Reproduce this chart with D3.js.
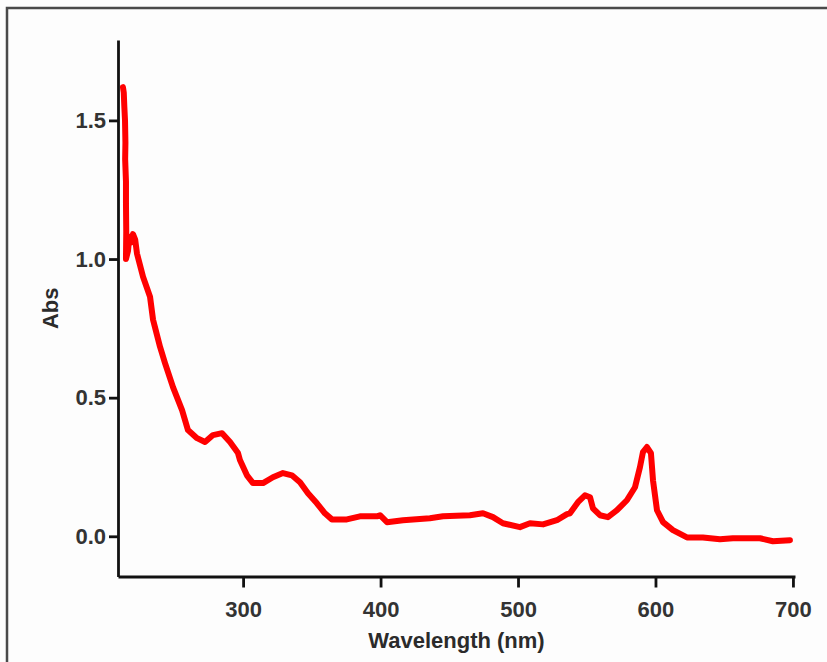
<!DOCTYPE html>
<html>
<head>
<meta charset="utf-8">
<script src="https://cdn.jsdelivr.net/npm/d3@7"></script>
<style>
  html, body { margin: 0; padding: 0; background: #fdfdfd; }
  svg { display: block; }
  .tick text { font-family: "Liberation Sans", Arial, sans-serif; font-weight: bold; font-size: 22px; fill: #333; }
  .axis-title { font-family: "Liberation Sans", Arial, sans-serif; font-weight: bold; font-size: 22px; fill: #2b2b2b; }
</style>
</head>
<body>
<script>
// Absorption spectrum: wavelength (nm) and absorbance
const wavelength = [
  212.6, 213.2, 213.6, 214.1, 214.4, 214.2, 214.8, 214.8, 215.0, 214.8,
  216.3, 217.2, 218.6, 219.9, 221.5, 222.8, 227.2, 232.3, 234.5, 239.6,
  243.2, 249.0, 255.6, 259.9, 266.5, 272.3, 278.1, 284.7, 290.5, 296.3,
  297.7, 302.8, 307.2, 314.5, 321.7, 329.0, 335.5, 341.4, 347.2, 353.7,
  359.5, 364.6, 375.5, 385.0, 397.4, 399.6, 404.7, 416.3, 435.9, 445.4,
  465.0, 474.5, 481.8, 489.0, 501.4, 508.7, 518.2, 528.3, 535.6, 537.8,
  543.6, 548.7, 552.4, 554.5, 559.6, 565.4, 572.0, 579.2, 585.1, 588.7,
  590.9, 593.8, 596.7, 598.2, 601.1, 605.5, 612.7, 622.9, 634.5, 646.9,
  656.3, 676.0, 685.4, 697.8
];
const absorbance = [
  1.62, 1.60, 1.55, 1.50, 1.42, 1.36, 1.28, 1.20, 1.10, 1.00,
  1.03, 1.08, 1.06, 1.09, 1.07, 1.02, 0.936, 0.864, 0.781, 0.683,
  0.625, 0.538, 0.455, 0.383, 0.354, 0.340, 0.365, 0.372, 0.340, 0.300,
  0.275, 0.220, 0.192, 0.192, 0.213, 0.228, 0.220, 0.195, 0.155, 0.119,
  0.083, 0.061, 0.061, 0.072, 0.072, 0.076, 0.051, 0.058, 0.065, 0.072,
  0.076, 0.083, 0.069, 0.047, 0.033, 0.047, 0.043, 0.058, 0.080, 0.083,
  0.123, 0.148, 0.141, 0.101, 0.076, 0.069, 0.094, 0.130, 0.177, 0.249,
  0.304, 0.322, 0.300, 0.202, 0.094, 0.051, 0.022, -0.004, -0.004, -0.011,
  -0.007, -0.007, -0.018, -0.014
];
const xTicks = [300, 400, 500, 600, 700];
const yTicks = [0.0, 0.5, 1.0, 1.5];
const xTitle = "Wavelength (nm)";
const yTitle = "Abs";

const W = 827, H = 662;
const svg = d3.select("body").append("svg").attr("width", W).attr("height", H);

// frame around the figure
svg.append("rect")
  .attr("x", 7).attr("y", 8).attr("width", W + 20).attr("height", H + 20)
  .attr("fill", "#fdfdfd").attr("stroke", "#4a4a4a").attr("stroke-width", 2.5);

const x = d3.scaleLinear().domain([209, 701.5]).range([118, 795]);
const y = d3.scaleLinear().domain([-0.145, 1.79]).range([576.5, 40]);

// spectrum trace
const pts = wavelength.map((w, i) => [w, absorbance[i]]);
svg.append("path")
  .datum(pts)
  .attr("fill", "none")
  .attr("stroke", "#ff0000")
  .attr("stroke-width", 6)
  .attr("stroke-linejoin", "round")
  .attr("stroke-linecap", "round")
  .attr("d", d3.line().x(d => x(d[0])).y(d => y(d[1])));

// axes
const xAxis = svg.append("g")
  .attr("transform", `translate(0,${y.range()[0]})`)
  .call(d3.axisBottom(x).tickValues(xTicks).tickSize(11).tickSizeOuter(0).tickPadding(14).tickFormat(d3.format("d")));
const yAxis = svg.append("g")
  .attr("transform", `translate(${x.range()[0]},0)`)
  .call(d3.axisLeft(y).tickValues(yTicks).tickSize(9).tickSizeOuter(0).tickPadding(3).tickFormat(d3.format(".1f")));

[xAxis, yAxis].forEach(g => {
  g.select(".domain").attr("stroke", "#111").attr("stroke-width", 2.8);
  g.selectAll(".tick line").attr("stroke", "#111").attr("stroke-width", 2.8);
  g.attr("font-size", null).attr("font-family", null);
});

// axis titles
svg.append("text")
  .attr("class", "axis-title")
  .attr("x", (x.range()[0] + x.range()[1]) / 2)
  .attr("y", 648)
  .attr("text-anchor", "middle")
  .text(xTitle);
svg.append("text")
  .attr("class", "axis-title")
  .attr("transform", `translate(58,${(y.range()[0] + y.range()[1]) / 2}) rotate(-90)`)
  .attr("text-anchor", "middle")
  .text(yTitle);
</script>
</body>
</html>
